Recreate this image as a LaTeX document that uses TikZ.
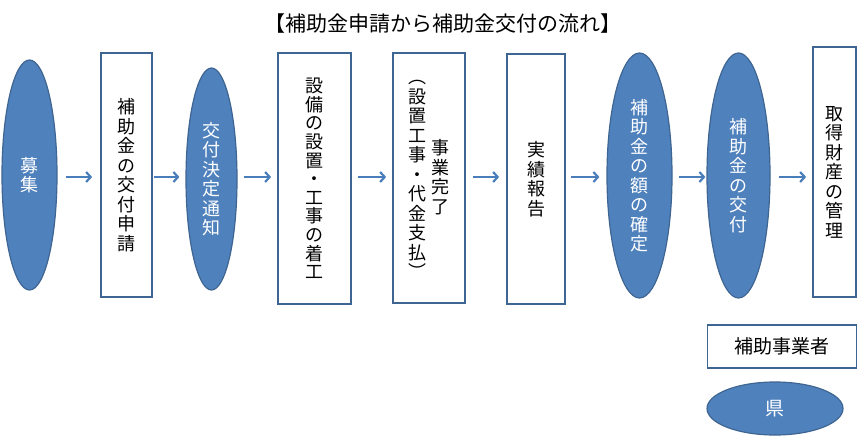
\documentclass[tikz,border=0pt]{standalone}
\usepackage{fontspec}
\setmainfont{Noto Sans CJK JP}
\usetikzlibrary{arrows.meta,shapes.geometric}
\definecolor{fillblue}{HTML}{4F81BD}
\definecolor{edgeblue}{HTML}{3F6592}
\definecolor{arrowblue}{HTML}{4A7EBB}
\newcommand{\vfont}{\fontsize{18}{19.5}\selectfont}
\begin{document}
\begin{tikzpicture}[x=1pt,y=-1pt,
  box/.style={draw=edgeblue, line width=1.8pt, fill=white, inner sep=0pt, align=center, font=\vfont},
  oval/.style={ellipse, draw=edgeblue, line width=1.2pt, fill=fillblue, text=white, inner sep=0pt, align=center, font=\vfont},
  vtext/.style={inner sep=0pt, align=center, font=\vfont},
  arr/.style={draw=arrowblue, line width=2.2pt, -{Straight Barb[length=4.5pt,width=10pt,line width=2.2pt]}}]
\useasboundingbox (0,0) rectangle (858,436);
\fill[white] (0,0) rectangle (858,436);

\node[font=\fontsize{21}{22}\selectfont] (title) at (442.5,24) {【補助金申請から補助金交付の流れ】};

\node[oval, minimum width=55pt, minimum height=230pt] (e1) at (29.5,175) {募\\集};
\node[box, minimum width=51pt, minimum height=244pt] (b1) at (126.5,175) {補\\助\\金\\の\\交\\付\\申\\請};
\node[oval, minimum width=51pt, minimum height=222pt] (e2) at (211.5,179) {交\\付\\決\\定\\通\\知};
\node[box, minimum width=73pt, minimum height=251pt, font=\fontsize{18}{18.6}\selectfont] (b2) at (314.5,178.5) {設\\備\\の\\設\\置\\・\\工\\事\\の\\着\\工};
\node[box, minimum width=72pt, minimum height=250pt] (b3) at (429,178) {};
\node[vtext] (b3l) at (417,179.5) {︵\\設\\置\\工\\事\\・\\代\\金\\支\\払\\︶};
\node[vtext] (b3r) at (440,177) {事\\業\\完\\了};
\node[box, minimum width=58pt, minimum height=250pt] (b4) at (536,179) {実\\績\\報\\告};
\node[oval, minimum width=65pt, minimum height=245pt] (e3) at (639.5,175.5) {補\\助\\金\\の\\額\\の\\確\\定};
\node[oval, minimum width=63pt, minimum height=245pt] (e4) at (738.5,175.5) {補\\助\\金\\の\\交\\付};
\node[box, minimum width=43pt, minimum height=250pt] (b5) at (834.5,172) {取\\得\\財\\産\\の\\管\\理};

\node[box, minimum width=149pt, minimum height=43pt, font=\fontsize{19}{21}\selectfont] (lb) at (782,346.5) {補助事業者};
\node[oval, minimum width=136pt, minimum height=53pt, font=\fontsize{19}{21}\selectfont] (le) at (775,408.5) {県};

\coordinate (row) at (0,177);
\draw[arr, shorten <=8pt, shorten >=8pt] (e1.east |- row) -- (b1.west |- row);
\draw[arr, shorten <=1pt, shorten >=6pt] (b1.east |- row) -- (e2.west |- row);
\draw[arr, shorten <=6pt, shorten >=6pt] (e2.east |- row) -- (b2.west |- row);
\draw[arr, shorten <=6pt, shorten >=6pt] (b2.east |- row) -- (b3.west |- row);
\draw[arr, shorten <=7pt, shorten >=7pt] (b3.east |- row) -- (b4.west |- row);
\draw[arr, shorten <=5pt, shorten >=7pt] (b4.east |- row) -- (e3.west |- row);
\draw[arr, shorten <=6pt, shorten >=1pt] (e3.east |- row) -- (e4.west |- row);
\draw[arr, shorten <=8pt, shorten >=6pt] (e4.east |- row) -- (b5.west |- row);
\end{tikzpicture}
\end{document}
